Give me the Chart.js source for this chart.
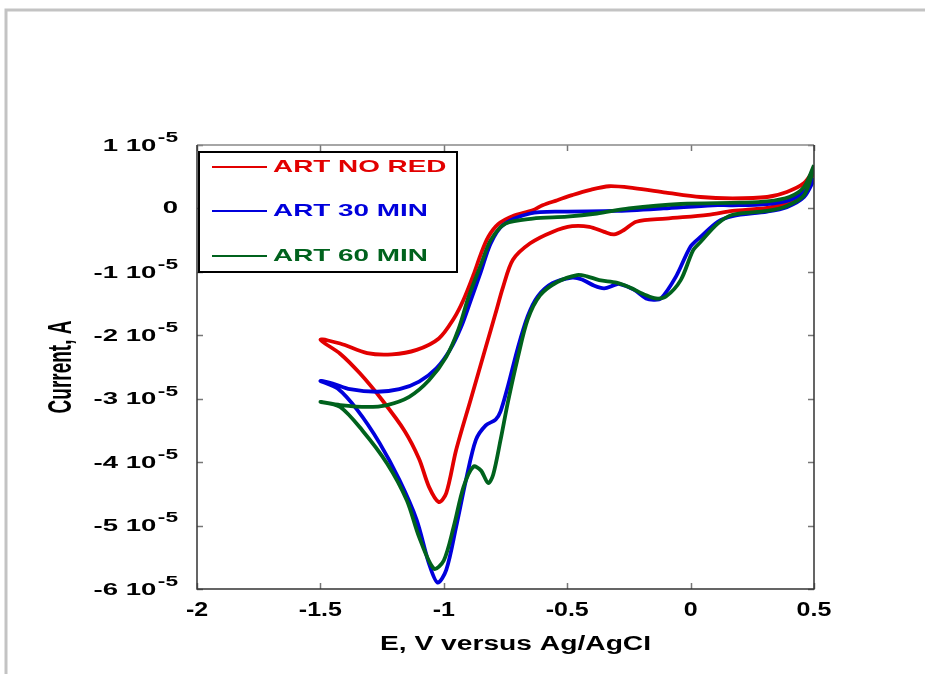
<!DOCTYPE html>
<html>
<head>
<meta charset="utf-8">
<script src="https://cdn.jsdelivr.net/npm/chart.js@4/dist/chart.umd.min.js"></script>
<style>
    html, body { margin: 0; padding: 0; background: #fff; }
    canvas { display: block; }
</style>
</head>
<body>
<canvas id="cv-chart" width="925" height="674"></canvas>
<script>
// Cyclic voltammograms, current in units of 10^-5 A.
// Each curve: cathodic sweep 0.5 -> -1.5 V, then the return sweep back to 0.5 V.
const seriesLabels = ['ART NO RED', 'ART 30 MIN', 'ART 60 MIN'];
const seriesColors = ['#e20000', '#0000dc', '#00621d'];

const redE = [0.50, 0.44, 0.39, 0.31, 0.17, 0.07, -0.10, -0.22, -0.27, -0.31, -0.35, -0.41, -0.48, -0.56, -0.65, -0.72, -0.76, -0.79, -0.83, -0.89, -0.95, -0.99, -1.02, -1.06, -1.10, -1.16, -1.25, -1.34, -1.42, -1.50,
    -1.42, -1.31, -1.21, -1.11, -1.02, -0.96, -0.92, -0.88, -0.85, -0.82, -0.78, -0.72, -0.64, -0.60, -0.54, -0.48, -0.41, -0.33, -0.23, -0.10, 0.04, 0.17, 0.31, 0.39, 0.46, 0.50];
const redI = [0.55, 0.21, 0.08, 0.01, -0.04, -0.10, -0.16, -0.21, -0.34, -0.41, -0.37, -0.29, -0.28, -0.37, -0.55, -0.81, -1.24, -1.65, -2.19, -3.00, -3.81, -4.49, -4.63, -4.39, -3.95, -3.50, -3.02, -2.60, -2.29, -2.07,
    -2.13, -2.28, -2.30, -2.23, -2.05, -1.74, -1.44, -1.05, -0.72, -0.45, -0.25, -0.12, -0.03, 0.05, 0.13, 0.21, 0.29, 0.35, 0.32, 0.25, 0.18, 0.16, 0.18, 0.26, 0.40, 0.61];

const blueE = [0.50, 0.46, 0.39, 0.31, 0.17, 0.11, 0.04, 0.00, -0.06, -0.12, -0.15, -0.18, -0.23, -0.29, -0.31, -0.35, -0.39, -0.44, -0.48, -0.56, -0.62, -0.66, -0.70, -0.74, -0.77, -0.79, -0.83, -0.87, -0.91, -0.95, -0.99, -1.025, -1.06, -1.11, -1.18, -1.26, -1.35, -1.43, -1.50,
    -1.45, -1.38, -1.27, -1.18, -1.10, -1.03, -0.975, -0.93, -0.89, -0.85, -0.81, -0.76, -0.65, -0.52, -0.31, -0.11, 0.09, 0.17, 0.31, 0.40, 0.46, 0.50];
const blueI = [0.45, 0.18, 0.02, -0.05, -0.12, -0.21, -0.45, -0.60, -1.08, -1.42, -1.44, -1.42, -1.28, -1.19, -1.21, -1.26, -1.22, -1.12, -1.09, -1.18, -1.39, -1.70, -2.20, -2.80, -3.20, -3.33, -3.42, -3.65, -4.28, -5.02, -5.70, -5.90, -5.60, -4.91, -4.28, -3.70, -3.18, -2.84, -2.72,
    -2.76, -2.85, -2.89, -2.85, -2.73, -2.52, -2.23, -1.87, -1.44, -1.00, -0.55, -0.26, -0.08, -0.05, -0.04, 0.00, 0.05, 0.05, 0.07, 0.13, 0.26, 0.48];

const greenE = [0.50, 0.46, 0.39, 0.31, 0.17, 0.11, 0.04, 0.01, -0.04, -0.10, -0.14, -0.18, -0.25, -0.30, -0.37, -0.42, -0.46, -0.54, -0.61, -0.66, -0.70, -0.74, -0.77, -0.80, -0.82, -0.85, -0.88, -0.92, -0.96, -1.00, -1.04, -1.10, -1.15, -1.23, -1.33, -1.42, -1.50,
    -1.42, -1.31, -1.23, -1.14, -1.06, -0.99, -0.94, -0.90, -0.85, -0.81, -0.75, -0.64, -0.50, -0.38, -0.25, -0.04, 0.20, 0.31, 0.40, 0.46, 0.50];
const greenI = [0.64, 0.21, 0.04, -0.04, -0.10, -0.24, -0.53, -0.66, -1.13, -1.39, -1.42, -1.37, -1.24, -1.17, -1.13, -1.07, -1.05, -1.16, -1.37, -1.75, -2.35, -3.05, -3.65, -4.20, -4.33, -4.13, -4.07, -4.39, -5.02, -5.55, -5.68, -5.18, -4.60, -4.02, -3.50, -3.13, -3.05,
    -3.10, -3.13, -3.10, -2.97, -2.71, -2.34, -1.90, -1.40, -0.89, -0.50, -0.24, -0.16, -0.13, -0.08, 0.00, 0.07, 0.09, 0.11, 0.18, 0.34, 0.68];

const xTicks = [-2, -1.5, -1, -0.5, 0, 0.5];
const yTicks = [1, 0, -1, -2, -3, -4, -5, -6];
const yExponent = '-5';

const FONT = '"Liberation Sans", Arial, sans-serif';

function toPoints(es, is) {
    return es.map((e, k) => ({ x: e, y: is[k] }));
}

// horizontally stretched text, the labels in this figure are drawn wide
function wideText(ctx, text, x, y, size, sx, align, color, rotate) {
    ctx.save();
    ctx.translate(x, y);
    ctx.scale(sx, 1);
    if (rotate) ctx.rotate(-Math.PI / 2);
    ctx.font = 'bold ' + size + 'px ' + FONT;
    ctx.fillStyle = color || '#000';
    ctx.textAlign = align;
    ctx.textBaseline = 'middle';
    ctx.fillText(text, 0, 0);
    ctx.restore();
}

function textWidth(ctx, text, size) {
    ctx.save();
    ctx.font = 'bold ' + size + 'px ' + FONT;
    const w = ctx.measureText(text).width;
    ctx.restore();
    return w;
}

const pageFrame = {
    id: 'pageFrame',
    beforeDraw(chart) {
        const ctx = chart.ctx;
        ctx.save();
        ctx.fillStyle = '#fff';
        ctx.fillRect(0, 0, chart.width, chart.height);
        ctx.strokeStyle = '#c3c3c3';
        ctx.lineWidth = 3;
        ctx.beginPath();
        ctx.moveTo(6, chart.height);
        ctx.lineTo(6, 10);
        ctx.lineTo(chart.width, 10);
        ctx.stroke();
        ctx.restore();
    }
};

const axesBox = {
    id: 'axesBox',
    afterDatasetsDraw(chart) {
        const { ctx, chartArea: a, scales: { x, y } } = chart;
        ctx.save();

        // inward ticks on all four sides
        ctx.strokeStyle = '#777';
        ctx.lineWidth = 1.5;
        ctx.beginPath();
        xTicks.forEach(v => {
            const px = Math.round(x.getPixelForValue(v)) + 0.5;
            ctx.moveTo(px, a.bottom); ctx.lineTo(px, a.bottom - 6);
            ctx.moveTo(px, a.top); ctx.lineTo(px, a.top + 6);
        });
        yTicks.forEach(v => {
            const py = Math.round(y.getPixelForValue(v)) + 0.5;
            ctx.moveTo(a.left, py); ctx.lineTo(a.left + 6, py);
            ctx.moveTo(a.right, py); ctx.lineTo(a.right - 6, py);
        });
        ctx.stroke();

        // frame
        ctx.lineWidth = 1.5;
        ctx.strokeStyle = '#888';
        ctx.beginPath();
        ctx.moveTo(a.left, a.top); ctx.lineTo(a.right, a.top);
        ctx.stroke();
        ctx.strokeStyle = '#333';
        ctx.beginPath();
        ctx.moveTo(a.right, a.top); ctx.lineTo(a.right, a.bottom);
        ctx.lineTo(a.left, a.bottom); ctx.lineTo(a.left, a.top);
        ctx.stroke();

        // x tick labels and title
        xTicks.forEach(v => {
            wideText(ctx, String(v), x.getPixelForValue(v), a.bottom + 21, 20, 1.25, 'center');
        });
        wideText(ctx, 'E, V versus Ag/AgCI', (a.left + a.right) / 2 + 10, a.bottom + 55, 20, 1.41, 'center');

        // y tick labels "n 10^-5"
        const right = a.left - 19;
        const sx = 1.62;
        yTicks.forEach(v => {
            const py = y.getPixelForValue(v);
            if (v === 0) {
                wideText(ctx, '0', right, py, 17, sx, 'right');
                return;
            }
            const supW = textWidth(ctx, yExponent, 14) * sx;
            wideText(ctx, yExponent, right, py - 7, 14, sx, 'right');
            wideText(ctx, v + ' 10', right - supW - 1.5, py + 1, 17, sx, 'right');
        });
        wideText(ctx, 'Current, A', a.left - 135, (a.top + a.bottom) / 2, 19, 1.7, 'center', '#000', true);

        // legend box
        const lx = a.left + 2, ly = a.top + 7, lw = 258, lh = 120;
        ctx.fillStyle = '#fff';
        ctx.fillRect(lx, ly, lw, lh);
        ctx.strokeStyle = '#000';
        ctx.lineWidth = 2;
        ctx.strokeRect(lx, ly, lw, lh);
        const rows = [15, 59, 104];
        seriesLabels.forEach((label, k) => {
            const ry = ly + rows[k];
            ctx.strokeStyle = seriesColors[k];
            ctx.lineWidth = 2;
            ctx.beginPath();
            ctx.moveTo(lx + 13, ry); ctx.lineTo(lx + 68, ry);
            ctx.stroke();
            wideText(ctx, label, lx + 74, ry, 17, 1.64, 'left', seriesColors[k]);
        });

        ctx.restore();
    }
};

const datasets = [
    { label: seriesLabels[0], data: toPoints(redE, redI), borderColor: seriesColors[0], order: 2 },
    { label: seriesLabels[1], data: toPoints(blueE, blueI), borderColor: seriesColors[1], order: 1 },
    { label: seriesLabels[2], data: toPoints(greenE, greenI), borderColor: seriesColors[2], order: 0 }
].map(d => Object.assign(d, {
    showLine: true,
    fill: false,
    borderWidth: 3.8,
    pointRadius: 0,
    tension: 0.3
}));

new Chart('cv-chart', {
    type: 'scatter',
    data: { datasets: datasets },
    options: {
        responsive: false,
        animation: false,
        devicePixelRatio: 1,
        layout: {
            padding: { left: 197, right: 111, top: 145, bottom: 85 }
        },
        scales: {
            x: { type: 'linear', display: false, min: -2, max: 0.5 },
            y: { type: 'linear', display: false, min: -6, max: 1 }
        },
        plugins: {
            legend: { display: false },
            tooltip: { enabled: false }
        }
    },
    plugins: [pageFrame, axesBox]
});
</script>
</body>
</html>
